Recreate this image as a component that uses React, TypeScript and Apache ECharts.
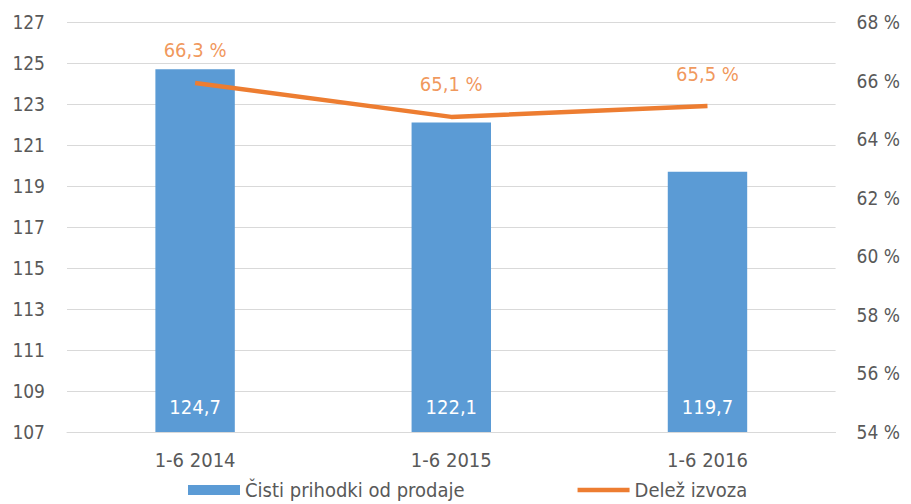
import React, { useEffect, useRef } from "react";
import * as echarts from "echarts";

const categories = ["1-6 2014", "1-6 2015", "1-6 2016"];
const revenue = [124.7, 122.1, 119.7];
const revenueLabels = ["124,7", "122,1", "119,7"];
const exportShare = [65.92, 64.76, 65.13];
const exportShareLabels = ["66,3 %", "65,1 %", "65,5 %"];

const FONT = "'Liberation Sans Narrow', 'DejaVu Sans Condensed', 'Open Sans', sans-serif";
const GREY = "#595959";

export default function App() {
  const ref = useRef<HTMLDivElement>(null);
  useEffect(() => {
    if (!ref.current) return;
    const chart = echarts.init(ref.current, null, { renderer: "svg" });
    chart.setOption({
      animation: false,
      textStyle: { fontFamily: FONT },
      grid: { left: 59, right: 62, top: 14, bottom: 72 },
      legend: {
        top: 472,
        left: 180,
        padding: 0,
        itemGap: 113,
        itemWidth: 52,
        itemHeight: 10,
        textStyle: { fontSize: 20, lineHeight: 20, color: GREY, fontFamily: FONT },
        data: [
          { name: "Čisti prihodki od prodaje", icon: "rect" },
          { name: "Delež izvoza", icon: "path://M0,0 L56,0 L56,5 L0,5 Z" },
        ],
      },
      xAxis: {
        type: "category",
        data: categories,
        axisLine: { lineStyle: { color: "#d9d9d9" } },
        axisTick: { show: false },
        axisLabel: { color: GREY, fontSize: 20, margin: 18, fontFamily: FONT },
      },
      yAxis: [
        {
          type: "value",
          min: 107,
          max: 127,
          interval: 2,
          axisLine: { show: false },
          axisTick: { show: false },
          splitLine: { lineStyle: { color: "#d9d9d9" } },
          axisLabel: { color: GREY, fontSize: 19, margin: 22, fontFamily: FONT },
        },
        {
          type: "value",
          min: 54,
          max: 68,
          interval: 2,
          axisLine: { show: false },
          axisTick: { show: false },
          splitLine: { show: false },
          axisLabel: {
            color: GREY,
            fontSize: 19,
            margin: 21,
            fontFamily: FONT,
            formatter: (v: number) => v + " %",
          },
        },
      ],
      series: [
        {
          name: "Čisti prihodki od prodaje",
          type: "bar",
          data: revenue,
          barWidth: "31%",
          itemStyle: { color: "#5B9BD5" },
          label: {
            show: true,
            position: "insideBottom",
            distance: 15,
            color: "#ffffff",
            fontSize: 20,
            fontFamily: FONT,
            formatter: (p: any) => revenueLabels[p.dataIndex],
          },
        },
        {
          name: "Delež izvoza",
          type: "line",
          yAxisIndex: 1,
          data: exportShare,
          symbol: "none",
          lineStyle: { color: "#ED7D31", width: 4.5 },
          itemStyle: { color: "#ED7D31" },
        },
        {
          name: "Delež izvoza labels",
          type: "scatter",
          yAxisIndex: 1,
          data: exportShare,
          symbolSize: 1,
          itemStyle: { color: "rgba(0,0,0,0)" },
          label: {
            show: true,
            position: "top",
            distance: 22,
            color: "#ED7D31",
            fontSize: 20,
            fontFamily: FONT,
            formatter: (p: any) => exportShareLabels[p.dataIndex],
          },
        },
      ],
    });
    return () => chart.dispose();
  }, []);
  return <div ref={ref} style={{ width: 895, height: 496 }} />;
}
